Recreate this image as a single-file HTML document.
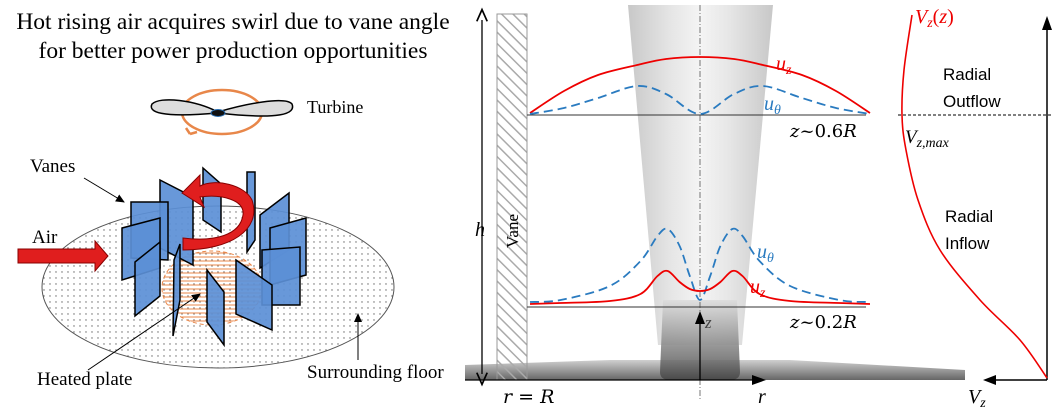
<!DOCTYPE html>
<html><head><meta charset="utf-8">
<style>
html,body{margin:0;padding:0;background:#fff;}
svg{display:block;font-family:"Liberation Serif",serif;}
</style></head>
<body>
<svg id="fig" width="1057" height="409" viewBox="0 0 1057 409" xmlns="http://www.w3.org/2000/svg">
<defs>
<pattern id="dots" width="6" height="6" patternUnits="userSpaceOnUse"><circle cx="2" cy="2" r="0.7" fill="#666"/></pattern>
<pattern id="hatchO" width="4" height="4" patternUnits="userSpaceOnUse"><line x1="0" y1="1" x2="4" y2="1" stroke="#e8874a" stroke-width="1"/></pattern>
<pattern id="hatchV" width="8" height="8" patternUnits="userSpaceOnUse" patternTransform="rotate(-45)"><line x1="0" y1="0" x2="0" y2="8" stroke="#aaa" stroke-width="3"/></pattern>
<linearGradient id="plume" x1="0" x2="1" y1="0" y2="0">
<stop offset="0" stop-color="#c8c8c8"/><stop offset="0.3" stop-color="#e6e6e6"/><stop offset="0.5" stop-color="#f4f4f4"/><stop offset="0.7" stop-color="#e6e6e6"/><stop offset="1" stop-color="#c8c8c8"/></linearGradient>
<linearGradient id="base" x1="0" x2="0" y1="0" y2="1"><stop offset="0" stop-color="#dcdcdc"/><stop offset="1" stop-color="#444"/></linearGradient>
<linearGradient id="floorG" x1="0" x2="0" y1="0" y2="1"><stop offset="0" stop-color="#d0d0d0"/><stop offset="1" stop-color="#666"/></linearGradient>
<marker id="ah" markerWidth="10" markerHeight="10" refX="8" refY="5" orient="auto"><path d="M0,1 L9,5 L0,9 Z" fill="#000"/></marker>
<marker id="ah2" markerWidth="12" markerHeight="10" refX="1" refY="5" orient="auto-start-reverse"><path d="M0,1 L9,5 L0,9" fill="none" stroke="#000" stroke-width="1.3"/></marker>
</defs>

<!-- LEFT PANEL -->
<g>
<text x="233" y="29" font-size="23.5" text-anchor="middle">Hot rising air acquires swirl due to vane angle</text>
<text x="233" y="58" font-size="23.5" text-anchor="middle">for better power production opportunities</text>

<g>
<ellipse cx="222" cy="112" rx="40" ry="22" fill="none" stroke="#e8874a" stroke-width="2.5"/>
<path d="M190,134 l-4,-6 M190,134 l7,-2" stroke="#e8874a" stroke-width="2.5" fill="none"/>
<path d="M218,112 C195,100 160,96 152,104 C148,112 160,118 218,113 Z" fill="#ddd" stroke="#000" stroke-width="1.5"/>
<path d="M218,112 C245,104 285,96 292,104 C296,114 280,120 218,113 Z" fill="#ddd" stroke="#000" stroke-width="1.5"/>
<ellipse cx="218" cy="113" rx="7" ry="3.5" fill="#111" stroke="#2a6fb3"/>
</g>
<text x="307" y="113" font-size="18">Turbine</text>

<ellipse cx="218" cy="287" rx="176" ry="81" fill="url(#dots)" stroke="#555" stroke-width="1"/>
<ellipse cx="212" cy="288" rx="50" ry="37" fill="url(#hatchO)" stroke="#e8874a" stroke-dasharray="4 3"/>

<g fill="#5b8fd6" stroke="#000" stroke-width="1.5" fill-opacity="0.92">
<polygon points="160,180 193,197 193,265 160,248"/>
<polygon points="131,202 168,202 168,260 131,258"/>
<polygon points="122,228 160,218 160,268 122,280"/>
<polygon points="135,262 160,242 160,296 135,316"/>
<polygon points="203,168 221,184 221,232 203,220"/>
<polygon points="247,172 255,172 255,240 247,252"/>
<polygon points="260,215 289,193 289,250 260,268"/>
<polygon points="270,228 306,218 306,275 270,285"/>
<polygon points="262,250 300,247 300,305 262,305"/>
<polygon points="236,260 272,285 272,330 236,314"/>
<polygon points="207,270 224,292 224,345 207,322"/>
<polygon points="174,260 180,244 180,300 173,336"/>
</g>
<path d="M183,250 C230,250 262,230 252,200 C245,185 215,178 200,186 L200,175 L182,193 L204,207 L200,197 C222,194 245,200 243,215 C240,235 215,242 183,238 Z" fill="#e01e1e" stroke="#800" stroke-width="1"/>
<path d="M18,249 L95,249 L95,241 L108,256 L95,271 L95,263 L18,263 Z" fill="#e01e1e" stroke="#800"/>
<text x="32" y="243" font-size="19">Air</text>
<text x="30" y="172" font-size="19">Vanes</text>
<line x1="84" y1="178" x2="124" y2="202" stroke="#000" marker-end="url(#ah)"/>
<text x="37" y="385" font-size="19">Heated plate</text>
<line x1="88" y1="370" x2="200" y2="294" stroke="#000" marker-end="url(#ah)"/>
<text x="307" y="378" font-size="19">Surrounding floor</text>
<line x1="358" y1="360" x2="358" y2="314" stroke="#000" marker-end="url(#ah)"/>
</g>

<!-- RIGHT PANEL -->
<g>
<polygon points="628,5 773,5 742,345 658,345" fill="url(#plume)"/>
<polygon points="465,380 965,380 965,370 790,360 610,360 465,365" fill="url(#floorG)"/>
<path d="M663,300 L737,300 L740,372 Q740,380 730,380 L670,380 Q660,380 660,372 Z" fill="url(#base)" opacity="0.85"/>
<line x1="700" y1="5" x2="700" y2="400" stroke="#555" stroke-dasharray="6 2 1 2" stroke-width="0.8"/>
<rect x="497" y="14" width="30" height="366" fill="url(#hatchV)" stroke="#999"/>
<text transform="translate(518,248) rotate(-90)" font-size="17">Vane</text>
<line x1="482" y1="20" x2="482" y2="374" stroke="#000" stroke-width="1.3" marker-start="url(#ah2)" marker-end="url(#ah2)"/>
<text x="475" y="236" font-size="20" font-style="italic">h</text>
<line x1="527" y1="115" x2="866" y2="115" stroke="#333"/>
<line x1="527" y1="307" x2="866" y2="307" stroke="#333"/>
<line x1="465" y1="380" x2="760" y2="380" stroke="#000" stroke-width="1.3"/>
<path d="M752,375 L766,380 L752,385 Z" fill="#000"/>
<line x1="700" y1="380" x2="700" y2="318" stroke="#000" stroke-width="1.3"/>
<path d="M695,324 L700,311 L705,324 Z" fill="#000"/>
<g id="profiles"></g>
<text x="705" y="328" font-size="17" font-style="italic" fill="#444">z</text>
<text x="790" y="137" font-size="18" font-family="DejaVu Serif, serif"><tspan font-style="italic">z</tspan>~0.6<tspan font-style="italic">R</tspan></text>
<text x="790" y="328" font-size="18" font-family="DejaVu Serif, serif"><tspan font-style="italic">z</tspan>~0.2<tspan font-style="italic">R</tspan></text>
<text x="776" y="70" font-size="20" font-style="italic" fill="#e00">u<tspan font-size="14" dy="4">z</tspan></text>
<text x="764" y="110" font-size="20" font-style="italic" fill="#2a7bc0">u<tspan font-size="14" dy="4">θ</tspan></text>
<text x="757" y="258" font-size="20" font-style="italic" fill="#2a7bc0">u<tspan font-size="14" dy="4">θ</tspan></text>
<text x="750" y="293" font-size="20" font-style="italic" fill="#e00">u<tspan font-size="14" dy="4">z</tspan></text>
<text x="503" y="403" font-size="19" font-family="DejaVu Serif, serif"><tspan font-style="italic">r</tspan> = <tspan font-style="italic">R</tspan></text>
<text x="758" y="403" font-size="20" font-style="italic">r</text>
</g>

<g>
<line x1="1047" y1="380" x2="1047" y2="24" stroke="#000" stroke-width="1.5"/>
<path d="M1042,30 L1047,16 L1052,30 Z" fill="#000"/>
<line x1="1047" y1="380" x2="990" y2="380" stroke="#000" stroke-width="1.5"/>
<path d="M996,375 L983,380 L996,385 Z" fill="#000"/>
<line x1="898" y1="115" x2="1052" y2="115" stroke="#000" stroke-dasharray="3 2"/>
<path id="vzcurve" fill="none" stroke="#e00" stroke-width="1.6"/>
<text x="915" y="23" font-size="20" font-style="italic" fill="#e00">V<tspan font-size="14" dy="4">z</tspan><tspan dy="-4" font-style="normal">(</tspan>z<tspan font-style="normal">)</tspan></text>
<text x="905" y="143" font-size="19" font-style="italic">V<tspan font-size="14" dy="4">z,max</tspan></text>
<text x="943" y="80" font-size="17" font-family="Liberation Sans, sans-serif"><tspan x="943">Radial</tspan><tspan x="943" dy="27">Outflow</tspan></text>
<text x="945" y="222" font-size="17" font-family="Liberation Sans, sans-serif"><tspan x="945">Radial</tspan><tspan x="945" dy="27">Inflow</tspan></text>
<text x="968" y="403" font-size="20" font-style="italic">V<tspan font-size="14" dy="4">z</tspan></text>
</g>
</svg>
<script>
// r positions (normalized, -1..1) and profile heights (px above baseline)
const rUpper = [-1,-0.8,-0.6,-0.37,-0.2,0,0.2,0.37,0.6,0.8,1];
const uzUpper = [0,22,38,48,54,56,54,48,38,22,0];
const utUpper = [0,6,16,28,20,0,20,28,16,6,0];
const rLower = [-1,-0.82,-0.53,-0.35,-0.25,-0.19,-0.12,-0.06,0,0.06,0.12,0.19,0.25,0.35,0.53,0.82,1];
const uzLower = [2,3,5,12,30,35,24,17,15,17,24,35,30,12,5,3,2];
const utLower = [4,6,20,45,70,77,60,30,6,30,60,77,70,45,20,6,4];
// Vz(z) profile: heights from floor and Vz magnitude (px)
const vzHeight = [0,38,78,128,178,228,263,308,363];
const vzValue = [0,27,67,107,129,141,145,143,135];

const cx=700, halfW=170, yU=115, yL=307;
function sx(r){return cx+r*halfW;}
function smooth(pts){
  let d='M'+pts[0][0]+','+pts[0][1];
  for(let i=1;i<pts.length;i++){
    const p0=pts[Math.max(0,i-2)],p1=pts[i-1],p2=pts[i],p3=pts[Math.min(pts.length-1,i+1)];
    const c1=[p1[0]+(p2[0]-p0[0])/6,p1[1]+(p2[1]-p0[1])/6];
    const c2=[p2[0]-(p3[0]-p1[0])/6,p2[1]-(p3[1]-p1[1])/6];
    d+=' C'+c1+' '+c2+' '+p2;
  }
  return d;
}
function pathFrom(rs,vs,y0){return smooth(rs.map((r,i)=>[sx(r),y0-vs[i]]));}
const g=document.getElementById('profiles');
const NS='http://www.w3.org/2000/svg';
function add(d,color,dash,name){
  const p=document.createElementNS(NS,'path');
  p.setAttribute('d',d);p.setAttribute('fill','none');p.setAttribute('stroke',color);
  p.setAttribute('stroke-width','1.8');if(dash)p.setAttribute('stroke-dasharray',dash);
  
  
  g.appendChild(p);
}
add(pathFrom(rUpper,uzUpper,yU-2),'#e00',null,'uz-upper-curve');
add(pathFrom(rUpper,utUpper,yU-1),'#2a7bc0','9 5','utheta-upper-curve');
add(pathFrom(rLower,utLower,yL-1),'#2a7bc0','9 5','utheta-lower-curve');
add(pathFrom(rLower,uzLower,yL-1),'#e00',null,'uz-lower-curve');
const axX=1047, floorY=378;
document.getElementById('vzcurve').setAttribute('d',smooth(vzHeight.map((h,i)=>[axX-vzValue[i],floorY-h])));
</script>
</body></html>
